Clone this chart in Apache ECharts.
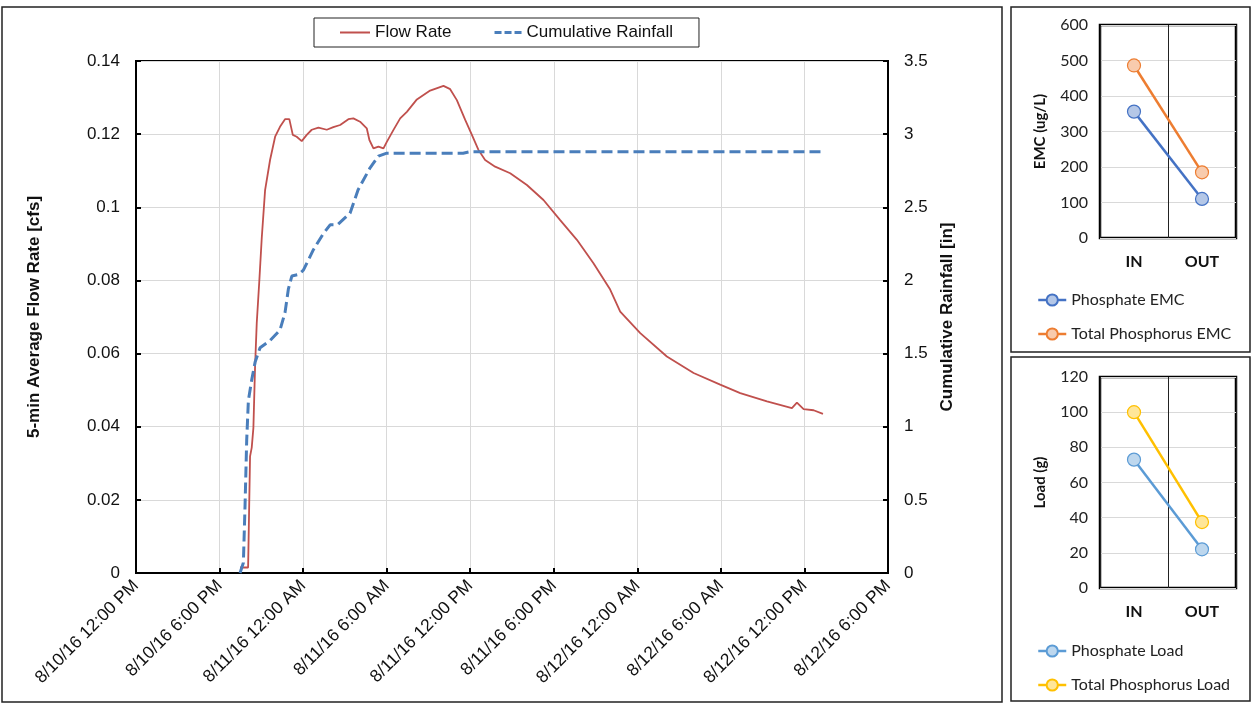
<!DOCTYPE html>
<html>
<head>
<meta charset="utf-8">
<title>Storm event flow, rainfall and phosphorus</title>
<script src="https://cdn.jsdelivr.net/npm/echarts@6/dist/echarts.min.js"></script>
<style>
  html, body { margin: 0; padding: 0; background: #fff; }
  #chart { width: 1251px; height: 703px; }
</style>
</head>
<body>
<div id="chart"></div>
<script>
// Event start used for the time axis: 8/10/16 12:00 PM. Times below are hours after it.
const startDay = 10;
const startHour = 12;

// 5-min average flow rate [cfs]
const flowHours = [7.47, 8.05, 8.19, 8.31, 8.43, 8.55, 8.67, 8.86, 9.03, 9.27, 9.63, 9.99, 10.34, 10.70, 11.01,
  11.26, 11.54, 11.90, 12.26, 12.62, 13.10, 13.70, 14.17, 14.66, 15.25, 15.61, 16.09, 16.57, 16.76, 17.05,
  17.41, 17.77, 18.01, 18.48, 18.97, 19.45, 20.17, 21.12, 22.08, 22.56, 23.04, 23.64, 24.12, 24.59, 25.07,
  25.79, 26.87, 28.07, 29.26, 30.46, 31.66, 32.85, 34.05, 34.77, 36.21, 38.12, 40.04, 41.95, 43.39, 45.31,
  47.10, 47.46, 47.94, 48.66, 49.33];
const flowRate = [0.0015, 0.0015, 0.0319, 0.0343, 0.0397, 0.0565, 0.0683, 0.0802, 0.0916, 0.1047, 0.1130, 0.1193, 0.1220, 0.1241, 0.1241,
  0.1198, 0.1193, 0.1181, 0.1198, 0.1212, 0.1218, 0.1212, 0.1219, 0.1225, 0.1241, 0.1243, 0.1234, 0.1216, 0.1184, 0.1161,
  0.1166, 0.1161, 0.1179, 0.1211, 0.1243, 0.1261, 0.1295, 0.1319, 0.1332, 0.1323, 0.1293, 0.1239, 0.1198, 0.1157, 0.1129,
  0.1111, 0.1093, 0.1061, 0.1020, 0.0965, 0.0911, 0.0847, 0.0775, 0.0715, 0.0656, 0.0592, 0.0547, 0.0515, 0.0492, 0.0469,
  0.0451, 0.0466, 0.0448, 0.0445, 0.0435];

// Cumulative rainfall [in]
const rainHours = [7.47, 7.71, 7.83, 7.95, 8.07, 8.31, 8.55, 8.91, 9.63, 10.34, 10.70, 10.94, 11.19, 11.66, 12.02,
  12.74, 13.45, 13.94, 14.47, 15.37, 15.95, 16.81, 17.41, 18.01, 23.49, 23.99, 49.50];
const rainDepth = [0, 0.07, 0.46, 0.91, 1.18, 1.32, 1.44, 1.54, 1.59, 1.66, 1.78, 1.94, 2.03, 2.04, 2.07,
  2.21, 2.32, 2.38, 2.38, 2.46, 2.62, 2.77, 2.85, 2.87, 2.87, 2.88, 2.88];

// Inflow / outflow phosphorus
const sites = ['IN', 'OUT'];
const phosphateEMC = [356, 110];
const totalPhosphorusEMC = [486, 185];
const phosphateLoad = [73, 22];
const totalPhosphorusLoad = [100, 37.5];

// Axis ticks
const timeTicks = { min: 0, max: 54, step: 6 };
const flowTicks = { min: 0, max: 0.14, step: 0.02 };
const rainTicks = { min: 0, max: 3.5, step: 0.5 };
const emcTicks = { min: 0, max: 600, step: 100 };
const loadTicks = { min: 0, max: 120, step: 20 };

function timeLabel(h) {
  const total = startHour + h;
  const day = startDay + Math.floor(total / 24);
  const hr = ((total % 24) + 24) % 24;
  const ampm = hr < 12 ? 'AM' : 'PM';
  const h12 = hr % 12 === 0 ? 12 : hr % 12;
  return '8/' + day + '/16 ' + h12 + ':00 ' + ampm;
}

const pairs = (xs, ys) => xs.map((x, i) => [x, ys[i]]);

const ARIAL = '"Liberation Sans", Arial, sans-serif';
const SIDE = 'Lato, "Open Sans", sans-serif';

// Legend keys: a plain line and a three-dash line (tiny corner specks keep the box size)
const SOLID_KEY = 'path://M0,0 L0.01,0 L0,0.01 Z M0,4 L30,4 L30,6 L0,6 Z M29.99,10 L30,10 L30,9.99 Z';
const DASH_KEY = 'path://M0,0 L0.01,0 L0,0.01 Z M3,3.5 L10,3.5 L10,6.5 L3,6.5 Z M13,3.5 L20,3.5 L20,6.5 L13,6.5 Z M23,3.5 L30,3.5 L30,6.5 L23,6.5 Z M29.99,10 L30,10 L30,9.99 Z';

const chart = echarts.init(document.getElementById('chart'), null, { renderer: 'canvas' });

function sideLegend(names, top) {
  return {
    data: names,
    orient: 'vertical',
    left: 1032,
    top: top,
    itemWidth: 28,
    itemHeight: 14,
    itemGap: 18,
    lineStyle: { width: 2.5 },
    textStyle: { fontFamily: SIDE, fontSize: 16, color: '#222' },
    selectedMode: false
  };
}

function sideSeries(name, data, axis, line, fill) {
  return {
    name: name,
    type: 'line',
    xAxisIndex: axis,
    yAxisIndex: axis + 1,
    data: data,
    symbol: 'circle',
    symbolSize: 13,
    lineStyle: { color: line, width: 2.5 },
    itemStyle: { color: fill, borderColor: line, borderWidth: 1.2 },
    z: 5
  };
}

function sideYAxis(grid, ticks, name) {
  return {
    type: 'value',
    gridIndex: grid,
    min: ticks.min, max: ticks.max, interval: ticks.step,
    name: name,
    nameLocation: 'middle',
    nameGap: 52,
    nameTextStyle: { fontFamily: SIDE, fontSize: 15, fontWeight: 'bold', color: '#111' },
    axisLine: { show: false },
    axisTick: { show: false },
    axisLabel: { fontFamily: SIDE, fontSize: 16, color: '#222', margin: 12 },
    splitLine: { lineStyle: { color: '#d9d9d9', width: 1 } }
  };
}

function sideXAxis(grid) {
  return {
    type: 'category',
    gridIndex: grid,
    data: sites,
    boundaryGap: true,
    axisLine: { show: false },
    axisTick: { show: false },
    axisLabel: { fontFamily: SIDE, fontSize: 16, fontWeight: 'bold', color: '#111', margin: 16 },
    splitLine: { show: true, lineStyle: { color: '#222', width: 1 } }
  };
}

const option = {
  animation: false,
  backgroundColor: '#fff',
  graphic: [
    { type: 'rect', shape: { x: 2, y: 7, width: 1000, height: 695 }, style: { fill: 'none', stroke: '#222', lineWidth: 1.5 }, silent: true },
    { type: 'rect', shape: { x: 1011, y: 7, width: 239, height: 345 }, style: { fill: 'none', stroke: '#222', lineWidth: 1.5 }, silent: true },
    { type: 'rect', shape: { x: 1011, y: 357, width: 239, height: 344 }, style: { fill: 'none', stroke: '#222', lineWidth: 1.5 }, silent: true }
  ],
  legend: [
    {
      data: [
        { name: 'Flow Rate', icon: SOLID_KEY },
        { name: 'Cumulative Rainfall', icon: DASH_KEY }
      ],
      left: 314,
      top: 18,
      padding: [6, 26, 6, 26],
      itemWidth: 30,
      itemHeight: 10,
      itemGap: 40,
      borderColor: '#222',
      borderWidth: 1,
      textStyle: { fontFamily: ARIAL, fontSize: 17, color: '#111' },
      selectedMode: false
    },
    sideLegend(['Phosphate EMC', 'Total Phosphorus EMC'], 287),
    sideLegend(['Phosphate Load', 'Total Phosphorus Load'], 638)
  ],
  grid: [
    { left: 136, top: 61, width: 752, height: 512, show: true, borderColor: '#000', borderWidth: 2, backgroundColor: '#fff' },
    { left: 1100, top: 25, width: 136, height: 213, show: true, borderColor: '#000', borderWidth: 2.5, backgroundColor: '#fff' },
    { left: 1100, top: 377, width: 136, height: 211, show: true, borderColor: '#000', borderWidth: 2.5, backgroundColor: '#fff' }
  ],
  xAxis: [
    {
      type: 'value',
      gridIndex: 0,
      min: timeTicks.min, max: timeTicks.max, interval: timeTicks.step,
      axisLine: { lineStyle: { color: '#000', width: 2 } },
      axisTick: { inside: true, length: 5, lineStyle: { color: '#000', width: 2 } },
      axisLabel: { rotate: 45, margin: 10, fontFamily: ARIAL, fontSize: 17.5, color: '#111', formatter: timeLabel },
      splitLine: { lineStyle: { color: '#d9d9d9', width: 1 } }
    },
    sideXAxis(1),
    sideXAxis(2)
  ],
  yAxis: [
    {
      type: 'value',
      gridIndex: 0,
      position: 'left',
      min: flowTicks.min, max: flowTicks.max, interval: flowTicks.step,
      name: '5-min Average Flow Rate [cfs]',
      nameLocation: 'middle',
      nameGap: 93,
      nameTextStyle: { fontFamily: ARIAL, fontSize: 17, fontWeight: 'bold', color: '#111' },
      axisLine: { show: true, lineStyle: { color: '#000', width: 2 } },
      axisTick: { show: true, inside: true, length: 5, lineStyle: { color: '#000', width: 2 } },
      axisLabel: { fontFamily: ARIAL, fontSize: 17, color: '#111', margin: 16 },
      splitLine: { lineStyle: { color: '#d9d9d9', width: 1 } }
    },
    {
      type: 'value',
      gridIndex: 0,
      position: 'right',
      min: rainTicks.min, max: rainTicks.max, interval: rainTicks.step,
      name: 'Cumulative Rainfall [in]',
      nameLocation: 'middle',
      nameGap: 50,
      nameTextStyle: { fontFamily: ARIAL, fontSize: 17, fontWeight: 'bold', color: '#111' },
      axisLine: { show: true, lineStyle: { color: '#000', width: 2 } },
      axisTick: { show: true, inside: true, length: 5, lineStyle: { color: '#000', width: 2 } },
      axisLabel: { fontFamily: ARIAL, fontSize: 17, color: '#111', margin: 16 },
      splitLine: { show: false }
    },
    sideYAxis(1, emcTicks, 'EMC (ug/L)'),
    sideYAxis(2, loadTicks, 'Load (g)')
  ],
  series: [
    {
      name: 'Flow Rate',
      type: 'line',
      xAxisIndex: 0,
      yAxisIndex: 0,
      data: pairs(flowHours, flowRate),
      symbol: 'none',
      lineStyle: { color: '#c0504d', width: 1.8 },
      itemStyle: { color: '#c0504d' },
      z: 3
    },
    {
      name: 'Cumulative Rainfall',
      type: 'line',
      xAxisIndex: 0,
      yAxisIndex: 1,
      data: pairs(rainHours, rainDepth),
      symbol: 'none',
      lineStyle: { color: '#4a7ebb', width: 3, type: [11, 5] },
      itemStyle: { color: '#4a7ebb' },
      z: 4
    },
    sideSeries('Phosphate EMC', phosphateEMC, 1, '#4472c4', '#b4c7e7'),
    sideSeries('Total Phosphorus EMC', totalPhosphorusEMC, 1, '#ed7d31', '#f8cbad'),
    sideSeries('Phosphate Load', phosphateLoad, 2, '#5b9bd5', '#bdd7ee'),
    sideSeries('Total Phosphorus Load', totalPhosphorusLoad, 2, '#ffc000', '#ffe699')
  ]
};

chart.setOption(option);
</script>
</body>
</html>
